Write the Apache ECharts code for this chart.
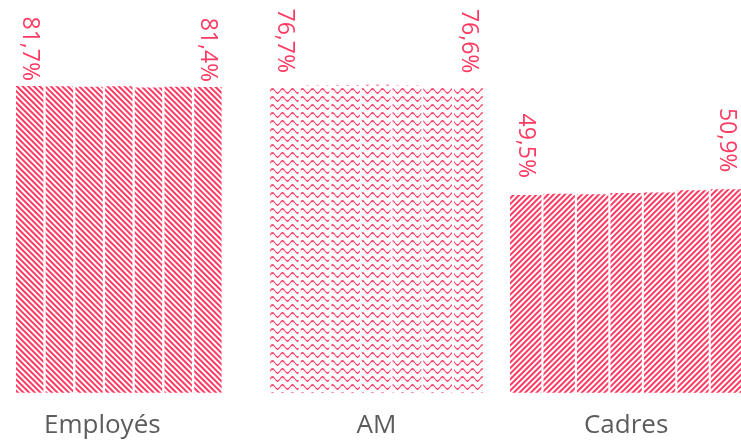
<!DOCTYPE html>
<html>
<head>
<meta charset="utf-8">
<script src="https://cdn.jsdelivr.net/npm/echarts@6/dist/echarts.min.js"></script>
<style>
  html, body { margin: 0; padding: 0; background: #fff; }
  #chart { width: 741px; height: 441px; }
</style>
</head>
<body>
<div id="chart"></div>
<script>
// groupes socio-professionnels
const groups = ['Employés', 'AM', 'Cadres'];
// 7 périodes (non affichées)
const periods = ['1', '2', '3', '4', '5', '6', '7'];
// valeurs en %
const employes = [81.7, 81.6, 81.5, 81.6, 81.3, 81.5, 81.4];
const am = [76.7, 76.8, 76.9, 77.0, 76.8, 76.5, 76.6];
const cadres = [49.5, 49.8, 49.7, 50.0, 50.1, 50.7, 50.9];

const pink = '#ff3a62';
const grey = '#5c5c5c';
const font = '"Open Sans", sans-serif';

// motifs
const wavePath = 'path://M0 2.5 Q2.5 -2.5 5 2.5 Q7.5 7.5 10 2.5 L10 4.5 Q7.5 9.5 5 4.5 Q2.5 -0.5 0 4.5 Z';
const decals = [
  { symbol: 'rect', color: pink, dashArrayX: [1, 0], dashArrayY: [2, 2], rotation: Math.PI / 4 },
  { symbol: wavePath, color: pink, symbolKeepAspect: false, dashArrayX: [10, 0], dashArrayY: [6, 2], rotation: 0 },
  { symbol: 'rect', color: pink, dashArrayX: [1, 0], dashArrayY: [2, 2], rotation: -Math.PI / 4 }
];

// mise en page de chaque bloc
const layouts = [
  { left: 14.85, width: 207.9, barWidth: 27.4, max: 104.6, labelDist: 5, namePad: [0, 33, 0, 0] },
  { left: 269, width: 214.7, barWidth: 28.7, max: 98.2, labelDist: 13, namePad: 0 },
  { left: 509, width: 234.2, barWidth: 31.4, max: 98.3, labelDist: 17, namePad: 0 }
];
const values = [employes, am, cadres];

const fmt = v => v.toFixed(1).replace('.', ',') + '%';

const chart = echarts.init(document.getElementById('chart'));

chart.setOption({
  backgroundColor: '#fff',
  animation: false,
  grid: layouts.map(l => ({ left: l.left, width: l.width, top: 0, bottom: 48.3, outerBoundsMode: 'none' })),
  xAxis: groups.map((g, i) => ({
    type: 'category',
    gridIndex: i,
    data: periods,
    axisLine: { show: false },
    axisTick: { show: false },
    axisLabel: { show: false },
    name: g,
    nameLocation: 'middle',
    nameGap: 20,
    nameTextStyle: { color: grey, fontSize: 26, fontFamily: font, padding: layouts[i].namePad }
  })),
  yAxis: groups.map((g, i) => ({
    type: 'value',
    gridIndex: i,
    min: 0,
    max: layouts[i].max,
    show: false,
    splitLine: { show: false }
  })),
  series: groups.map((g, i) => ({
    type: 'bar',
    name: g,
    xAxisIndex: i,
    yAxisIndex: i,
    barWidth: layouts[i].barWidth,
    data: values[i],
    itemStyle: { color: 'rgba(255,255,255,0)', decal: decals[i] },
    label: {
      show: true,
      position: 'top',
      rotate: -90,
      align: 'right',
      verticalAlign: 'middle',
      distance: layouts[i].labelDist,
      color: pink,
      fontSize: 23,
      fontFamily: font,
      formatter: p => (p.dataIndex === 0 || p.dataIndex === values[i].length - 1) ? fmt(p.value) : ''
    }
  }))
});
</script>
</body>
</html>
